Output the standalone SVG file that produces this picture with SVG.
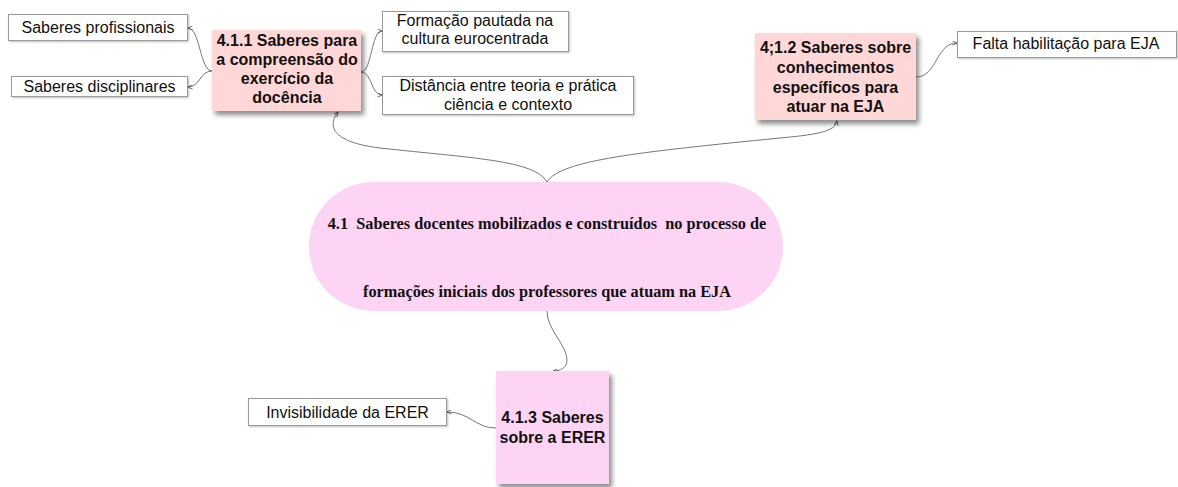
<svg xmlns="http://www.w3.org/2000/svg" width="1178" height="487" viewBox="0 0 1178 487">
<defs>
<filter id="sh" x="-10%" y="-10%" width="130%" height="130%">
<feDropShadow dx="3" dy="4" stdDeviation="2.5" flood-color="#000" flood-opacity="0.45"/>
</filter>
<filter id="sh2" x="-5%" y="-20%" width="110%" height="150%">
<feDropShadow dx="1" dy="1" stdDeviation="0.8" flood-color="#000" flood-opacity="0.25"/>
</filter>
<marker id="ah" viewBox="0 0 6 6" refX="5.5" refY="3" markerWidth="5" markerHeight="5" orient="auto" markerUnits="userSpaceOnUse">
<path d="M0,0.5 L6,3 L0,5.5" fill="none" stroke="#555" stroke-width="1"/>
</marker>
</defs>
<style>
.leaf{fill:#fff;stroke:#9a9a9a;stroke-width:1}
.topic{fill:#ffd7d7}
.pink{fill:#fdd4f3}
.t{font-family:"Liberation Sans",Arial,sans-serif;font-size:16px;fill:#111;text-anchor:middle}
.b{font-family:"Liberation Sans",Arial,sans-serif;font-size:16px;font-weight:bold;fill:#111;text-anchor:middle}
.s{font-family:"Liberation Serif","Times New Roman",serif;font-size:16.3px;font-weight:bold;fill:#111;text-anchor:middle;white-space:pre}
.c{fill:none;stroke:#666;stroke-width:0.9;marker-end:url(#ah)}
</style>
<rect width="1178" height="487" fill="#fff"/>
<g id="connectors">
<path class="c" d="M212,71 C200,71 200,28 188,28"/>
<path class="c" d="M212,71 C200,71 200,87 188,87"/>
<path class="c" d="M361,72 C372,72 371,31 382,31"/>
<path class="c" d="M361,72 C372,72 371,95 382,95"/>
<path class="c" d="M916,77 C937,77 936,43 957,43"/>
<path class="c" d="M547,182 C535,160 470,158 380,148 C330,142 328,125 338,112"/>
<path class="c" d="M547,182 C560,160 640,152 780,138 C825,134 835,130 837,121"/>
<path class="c" d="M547,311 C547,330 567,345 567,360 C567,368 560,371 553,371"/>
<path class="c" d="M496,428 C475,428 470,412 447,412"/>
</g>
<g id="n-profissionais">
<rect class="leaf" x="8.5" y="14.5" width="179" height="26" filter="url(#sh2)"/>
<text class="t" x="98" y="33">Saberes profissionais</text>
</g>
<g id="n-disciplinares">
<rect class="leaf" x="11.5" y="76.5" width="176" height="20" filter="url(#sh2)"/>
<text class="t" x="99.5" y="92">Saberes disciplinares</text>
</g>
<g id="n-411">
<rect class="topic" x="212" y="30" width="149" height="81" filter="url(#sh)"/>
<text class="b" x="287" y="46">4.1.1 Saberes para</text>
<text class="b" x="287" y="65">a compreensão do</text>
<text class="b" x="287" y="84">exercício da</text>
<text class="b" x="287" y="103">docência</text>
</g>
<g id="n-formacao">
<rect class="leaf" x="382.5" y="11.5" width="186" height="40" filter="url(#sh2)"/>
<text class="t" x="475" y="26">Formação pautada na</text>
<text class="t" x="475" y="44">cultura eurocentrada</text>
</g>
<g id="n-distancia">
<rect class="leaf" x="382.5" y="76.5" width="251" height="38" filter="url(#sh2)"/>
<text class="t" x="508" y="91">Distância entre teoria e prática</text>
<text class="t" x="508" y="110">ciência e contexto</text>
</g>
<g id="n-412">
<rect class="topic" x="755" y="33" width="161" height="87" filter="url(#sh)"/>
<text class="b" x="835.5" y="53">4;1.2 Saberes sobre</text>
<text class="b" x="835.5" y="73">conhecimentos</text>
<text class="b" x="835.5" y="93">específicos para</text>
<text class="b" x="835.5" y="112">atuar na EJA</text>
</g>
<g id="n-falta">
<rect class="leaf" x="957.5" y="31.5" width="219" height="26" filter="url(#sh2)"/>
<text class="t" x="1066" y="49">Falta habilitação para EJA</text>
</g>
<g id="n-41">
<rect class="pink" x="309" y="182" width="474" height="129" rx="64.5" ry="64.5"/>
<text class="s" x="547" y="229" xml:space="preserve">4.1  Saberes docentes mobilizados e construídos  no processo de</text>
<text class="s" x="547" y="297">formações iniciais dos professores que atuam na EJA</text>
</g>
<g id="n-413">
<rect class="pink" x="496" y="371" width="113" height="113" filter="url(#sh)"/>
<text class="b" x="552.5" y="423">4.1.3 Saberes</text>
<text class="b" x="552.5" y="443">sobre a ERER</text>
</g>
<g id="n-invisibilidade">
<rect class="leaf" x="248.5" y="398.5" width="198" height="27" filter="url(#sh2)"/>
<text class="t" x="347.5" y="418">Invisibilidade da ERER</text>
</g>
</svg>
